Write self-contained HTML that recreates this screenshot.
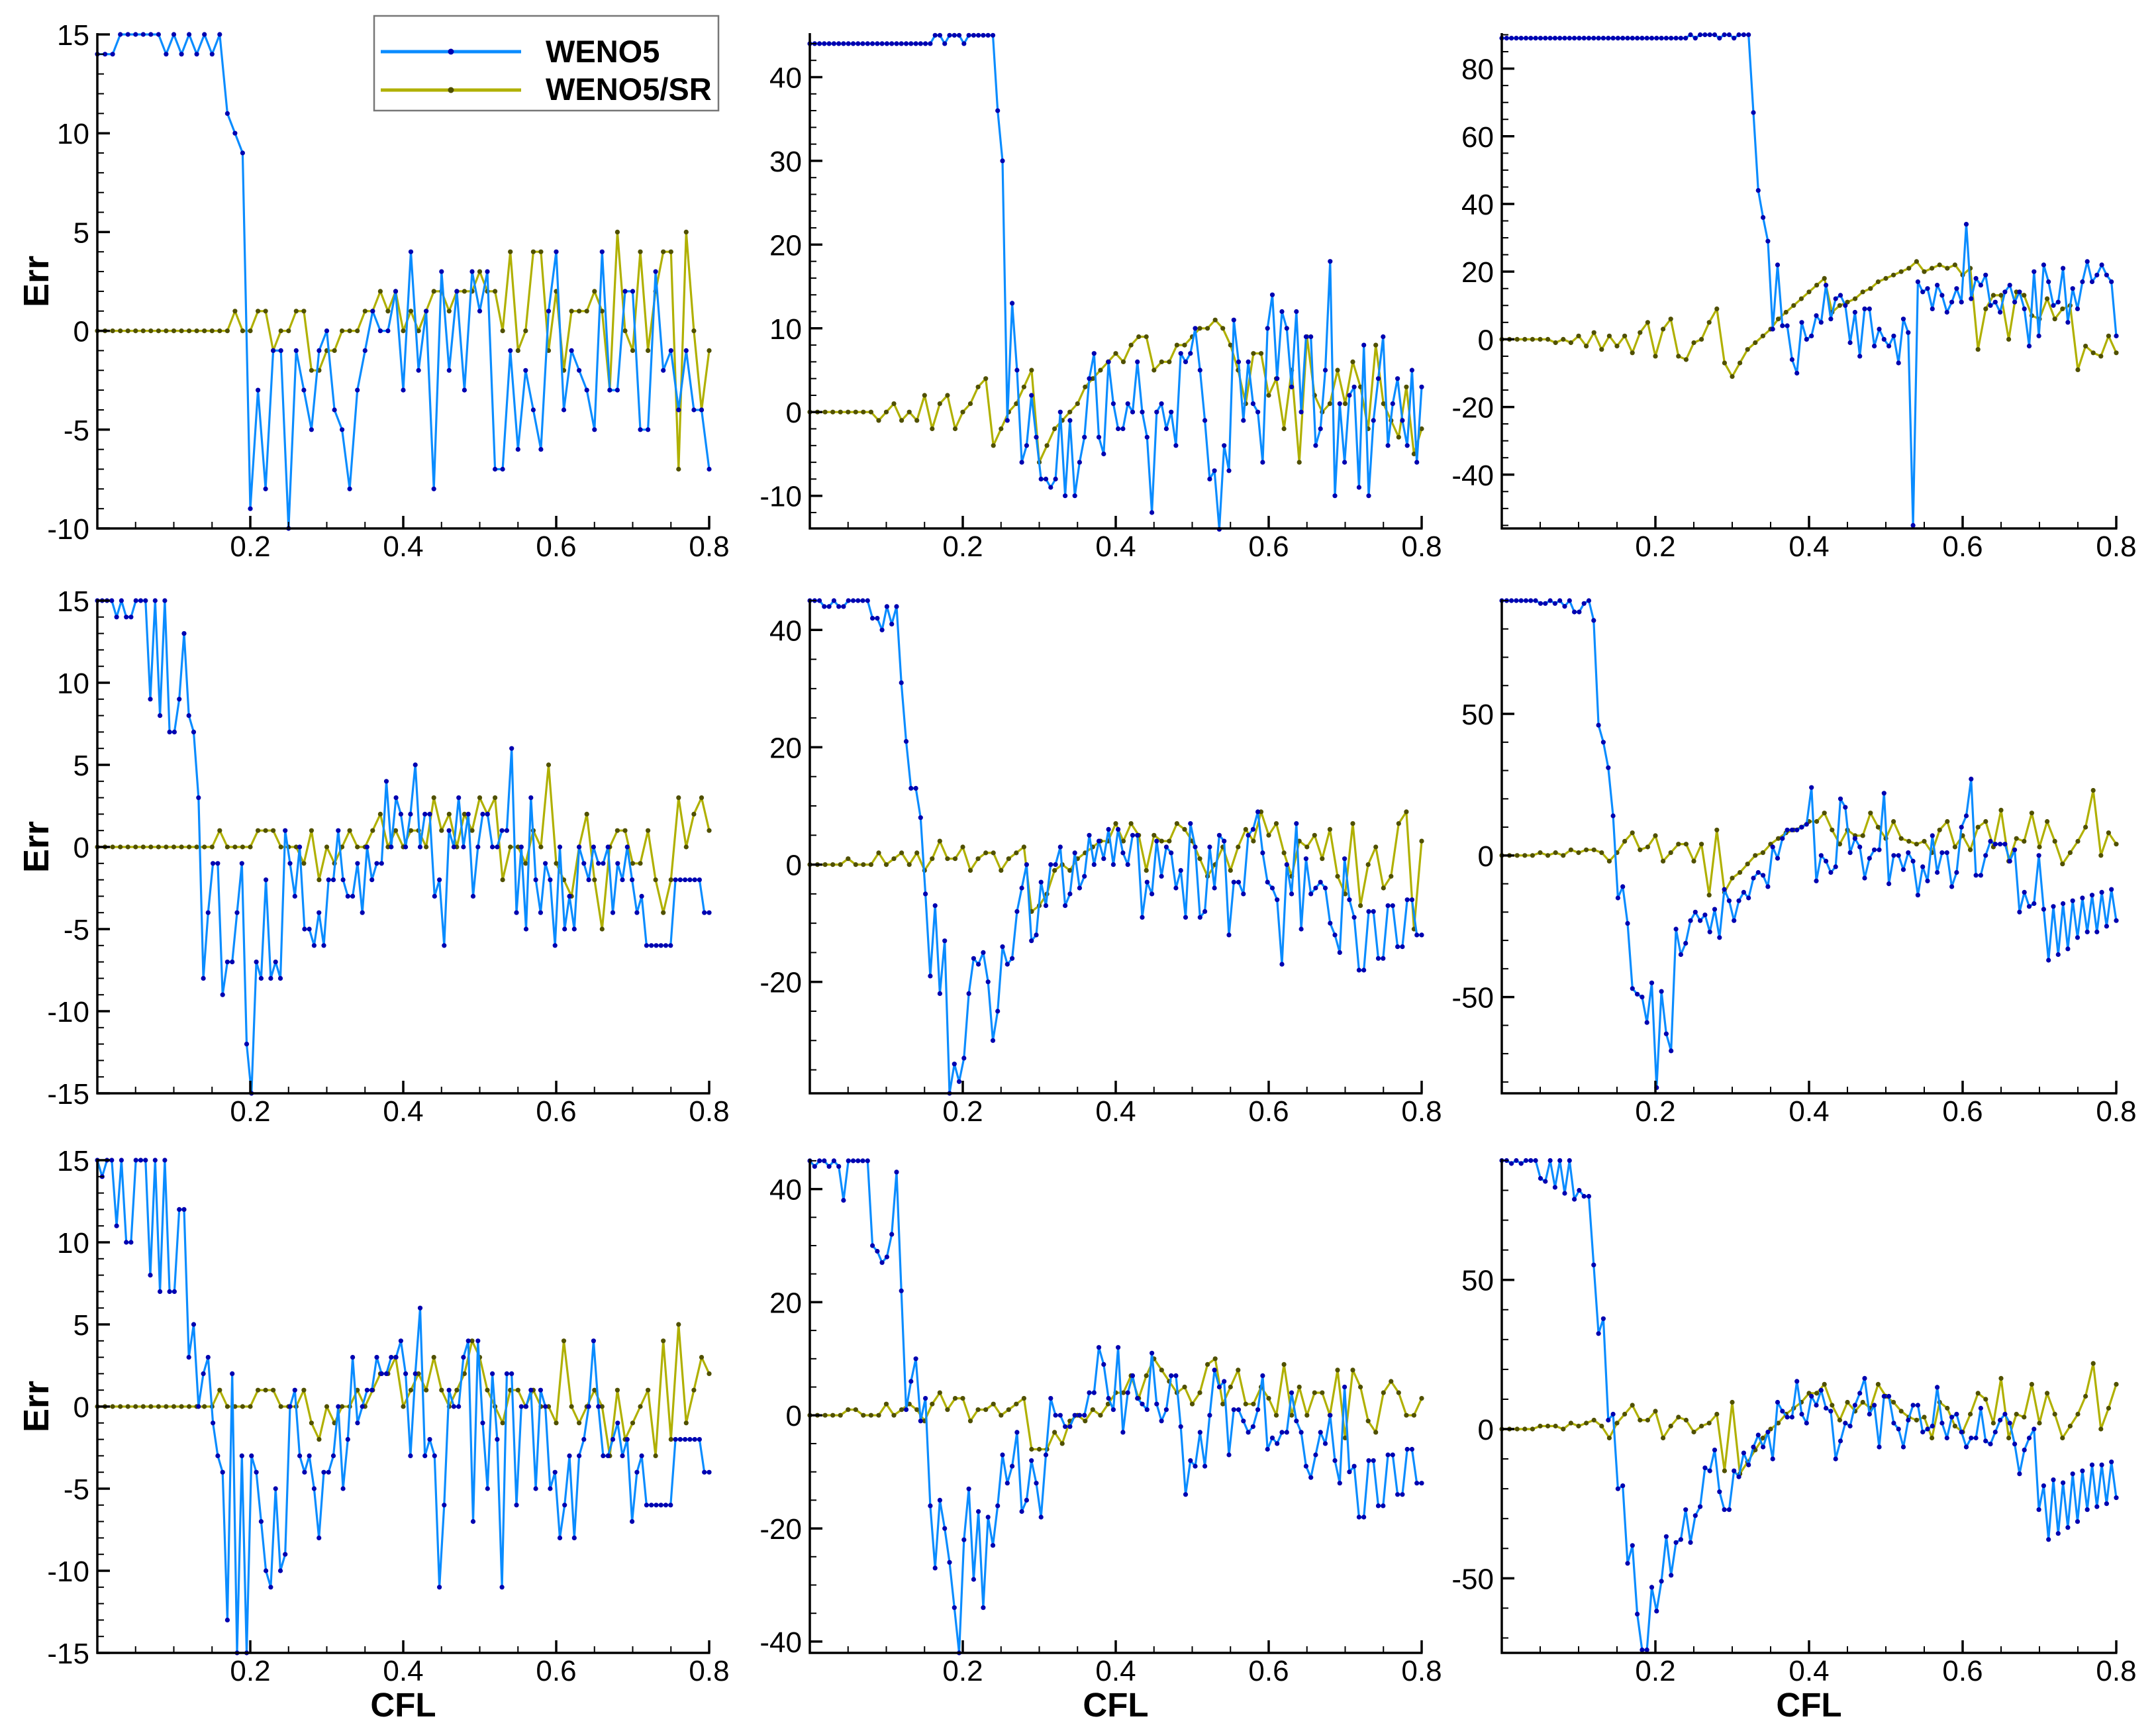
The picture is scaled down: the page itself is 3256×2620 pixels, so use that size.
<!DOCTYPE html>
<html><head><meta charset="utf-8"><style>
html,body{margin:0;padding:0;background:#fff;}
svg{display:block;}
text{font-family:"Liberation Sans",Arial,sans-serif;}
</style></head><body>
<svg id="chart" xmlns="http://www.w3.org/2000/svg" width="3256" height="2620" viewBox="0 0 3256 2620">
<rect x="0" y="0" width="3256" height="2620" fill="#fff"/>
<g id="legend">
<rect x="565" y="24" width="520" height="143" fill="#fff" stroke="#777" stroke-width="2.5"/>
<g>
<line x1="575" y1="78" x2="787" y2="78" stroke="#0a8cff" stroke-width="5"/>
<circle cx="681" cy="78" r="4.5" fill="#0000b0"/>
<text x="824" y="94" font-size="47" font-weight="bold" fill="#000">WENO5</text>
</g>
<g>
<line x1="575" y1="136" x2="787" y2="136" stroke="#b0b000" stroke-width="5"/>
<circle cx="681" cy="136" r="4.5" fill="#505000"/>
<text x="824" y="151" font-size="47" font-weight="bold" fill="#000">WENO5/SR</text>
</g>
</g>
</svg>
<script>
// ---- data (CFL runs 0..0.8; points spread evenly along each array) ----
const p1Blue=[14,14,14,15,15,15,15,15,15,14,15,14,15,14,15,14,15,11,10,9,-9,-3,-8,-1,-1,-10,-1,-3,-5,-1,0,-4,-5,-8,-3,-1,1,0,0,2,-3,4,-2,1,-8,3,-2,2,-3,3,1,3,-7,-7,-1,-6,-2,-4,-6,1,4,-4,-1,-2,-3,-5,4,-3,-3,2,2,-5,-5,3,-2,-1,-4,-1,-4,-4,-7];
const p1Olive=[0,0,0,0,0,0,0,0,0,0,0,0,0,0,0,0,0,0,1,0,0,1,1,-1,0,0,1,1,-2,-2,-1,-1,0,0,0,1,1,2,1,2,0,1,0,1,2,2,1,2,2,2,3,2,2,0,4,-1,0,4,4,-1,2,-2,1,1,1,2,1,-3,5,0,-1,4,-1,2,4,4,-7,5,0,-4,-1];
const p2Blue=[44,44,44,44,44,44,44,44,44,44,44,44,44,44,44,44,44,44,44,44,44,44,44,44,44,44,45,45,44,45,45,45,44,45,45,45,45,45,45,36,30,-1,13,5,-6,-4,2,-3,-8,-8,-9,-8,0,-10,-1,-10,-6,-3,4,7,-3,-5,6,1,-2,-2,1,0,6,0,-3,-12,0,1,-2,0,-4,7,6,7,10,5,-1,-8,-7,-14,-4,-7,11,6,-1,6,1,0,-6,10,14,4,12,10,3,12,0,9,9,-4,-2,5,18,-10,1,-6,2,3,-9,8,-10,-1,4,9,-4,1,4,-1,-4,5,-6,3];
const p2Olive=[0,0,0,0,0,0,0,0,0,-1,0,1,-1,0,-1,2,-2,1,2,-2,0,1,3,4,-4,-2,0,1,3,5,-6,-4,-2,-1,0,1,3,4,5,6,7,6,8,9,9,5,6,6,8,8,9,10,10,11,10,8,5,1,7,7,2,4,-2,5,-6,9,2,0,1,5,1,6,3,-2,8,1,-1,-3,3,-5,-2];
const p3Blue=[89,89,89,89,89,89,89,89,89,89,89,89,89,89,89,89,89,89,89,89,89,89,89,89,89,89,89,89,89,89,89,89,89,89,89,89,89,89,89,90,89,90,90,90,90,89,90,90,89,90,90,90,67,44,36,29,3,22,4,4,-6,-10,5,0,1,7,5,16,6,12,13,10,-1,8,-5,9,9,-2,3,0,-2,1,-7,6,2,-55,17,14,15,9,16,13,8,11,15,11,34,12,18,16,19,10,11,8,14,16,11,14,9,-2,20,1,22,17,10,11,21,5,15,9,17,23,17,19,22,19,17,1];
const p3Olive=[0,0,0,0,0,0,0,-1,0,-1,1,-2,2,-3,1,-2,1,-4,2,5,-5,3,6,-5,-6,-1,0,5,9,-7,-11,-7,-3,-1,1,3,6,8,10,12,14,16,18,8,10,11,12,14,15,17,18,19,20,21,23,20,21,22,21,22,19,21,-3,9,13,13,0,14,13,7,6,12,6,9,10,-9,-2,-4,-5,1,-4];
const p4Blue=[15,15,15,15,14,15,14,14,15,15,15,9,15,8,15,7,7,9,13,8,7,3,-8,-4,-1,-1,-9,-7,-7,-4,-1,-12,-15,-7,-8,-2,-8,-7,-8,1,-1,-3,0,-5,-5,-6,-4,-6,-2,-2,1,-2,-3,-3,-1,-4,0,-2,-1,-1,4,0,3,2,0,2,5,0,2,2,-3,-2,-6,1,0,3,0,2,-3,0,2,2,0,0,1,1,6,-4,0,-5,3,-2,-4,-1,-2,-6,0,-5,-3,-5,0,-1,-2,0,-1,-1,0,-4,-1,-2,0,-2,-4,-3,-6,-6,-6,-6,-6,-6,-2,-2,-2,-2,-2,-2,-4,-4];
const p4Olive=[0,0,0,0,0,0,0,0,0,0,0,0,0,0,0,0,1,0,0,0,0,1,1,1,0,0,0,-1,1,-2,0,-1,0,1,0,0,1,2,0,1,0,1,1,0,3,1,2,0,2,1,3,2,3,-2,0,0,-1,1,0,5,-1,-2,-3,0,2,-2,-5,0,1,1,-1,-1,1,-2,-4,-2,3,0,2,3,1];
const p5Blue=[45,45,45,44,44,45,44,44,45,45,45,45,45,42,42,40,44,41,44,31,21,13,13,8,-5,-19,-7,-22,-13,-39,-34,-37,-33,-22,-16,-17,-15,-20,-30,-25,-14,-17,-16,-8,-4,0,-13,-12,-3,-7,0,0,3,-7,-5,2,-4,-2,5,0,4,1,6,0,6,2,0,5,5,-9,-3,-5,4,-2,3,2,-4,-1,-9,7,3,-9,-8,3,-4,5,4,-12,-3,-3,-5,5,6,9,2,-3,-4,-6,-17,0,-5,7,-11,1,-5,-4,-3,-4,-10,-12,-15,1,-6,-9,-18,-18,-8,-8,-16,-16,-7,-7,-14,-14,-6,-6,-12,-12];
const p5Olive=[0,0,0,0,0,1,0,0,0,2,0,1,2,0,2,-1,1,4,1,1,3,-1,1,2,2,-1,1,2,3,-8,-7,-5,-1,0,-1,1,2,3,4,4,7,4,7,5,-1,5,4,4,7,6,4,1,-2,0,3,-1,3,6,4,9,5,7,2,-2,4,3,5,1,6,-2,-5,7,-7,0,3,-4,-2,7,9,-11,4];
const p6Blue=[90,90,90,90,90,90,90,90,89,89,90,89,90,88,90,86,86,89,90,83,46,40,31,14,-15,-11,-24,-47,-49,-50,-59,-45,-82,-48,-63,-69,-26,-35,-31,-23,-20,-23,-21,-27,-19,-29,-12,-16,-23,-16,-13,-15,-8,-6,-7,-11,3,-1,6,9,9,9,10,11,24,-9,0,-2,-6,-4,20,17,1,6,3,-8,-1,2,2,22,-10,0,0,-5,1,-2,-14,-4,-9,7,-6,1,1,-11,-6,10,14,27,-7,-7,0,5,4,4,4,-2,2,-20,-13,-18,-17,0,-19,-37,-18,-35,-17,-33,-16,-29,-15,-27,-14,-27,-13,-25,-12,-23];
const p6Olive=[0,0,0,0,0,1,0,1,0,2,1,2,2,1,-2,1,5,8,2,3,7,-2,1,4,4,-2,4,-14,9,-13,-8,-6,-3,0,1,4,6,8,9,10,12,12,15,9,4,9,7,7,15,10,6,12,6,5,4,5,1,9,12,3,7,2,10,12,3,16,-2,6,5,15,3,12,5,-3,1,5,10,23,0,8,4];
const p7Blue=[15,14,15,15,11,15,10,10,15,15,15,8,15,7,15,7,7,12,12,3,5,0,2,3,-1,-3,-4,-13,2,-15,-3,-15,-3,-4,-7,-10,-11,-5,-10,-9,0,1,-3,-4,-3,-5,-8,-4,-4,-3,0,-5,-2,3,-1,0,1,1,3,2,2,3,3,4,2,-3,2,6,-3,-2,-3,-11,-6,1,0,0,3,4,-7,4,-1,-5,2,-2,-11,2,2,-6,0,0,1,-5,1,0,-5,-4,-8,-6,-3,-8,-3,-2,0,4,0,-3,-3,-2,-1,-3,-2,-7,-4,-3,-6,-6,-6,-6,-6,-6,-2,-2,-2,-2,-2,-2,-4,-4];
const p7Olive=[0,0,0,0,0,0,0,0,0,0,0,0,0,0,0,0,1,0,0,0,0,1,1,1,0,0,0,1,-1,-2,0,-1,0,0,1,0,1,2,2,3,0,1,2,1,3,1,0,1,2,4,3,1,0,-1,1,1,0,1,0,0,-1,4,0,-1,0,1,0,-3,1,-2,-1,0,1,-3,4,-2,5,-1,1,3,2];
const p8Blue=[45,44,45,45,44,45,44,38,45,45,45,45,45,30,29,27,28,32,43,22,1,6,10,-1,3,-16,-27,-15,-20,-26,-34,-42,-22,-13,-29,-17,-34,-18,-23,-16,-7,-12,-9,-3,-17,-15,-8,-12,-18,-7,3,0,0,-2,-2,0,0,0,4,4,12,9,3,1,12,-3,4,7,3,2,1,11,2,-1,1,7,7,-2,-14,-8,-9,-3,-9,0,8,5,6,-7,1,1,-1,-3,-2,1,7,-6,-4,-5,-3,-3,4,-1,-3,-9,-11,-7,-3,-5,0,-8,-12,5,-10,-9,-18,-18,-8,-8,-16,-16,-7,-7,-14,-14,-6,-6,-12,-12];
const p8Olive=[0,0,0,0,0,1,1,0,0,0,2,0,1,2,1,-1,2,4,1,3,3,-1,1,1,2,0,1,2,3,-6,-6,-6,-3,-5,-1,0,-1,1,0,2,4,4,7,3,7,10,8,6,4,5,2,4,9,10,2,5,8,2,2,5,3,0,9,0,5,0,4,4,0,8,-4,8,5,-1,-3,4,6,4,0,0,3];
const p9Blue=[90,90,89,90,89,90,90,90,84,83,90,81,90,79,90,77,80,78,78,55,32,37,3,5,-20,-19,-45,-39,-62,-74,-74,-53,-61,-51,-36,-49,-38,-37,-27,-38,-29,-26,-13,-14,-7,-21,-27,-27,-14,-16,-8,-12,-6,-2,-6,-1,-10,9,6,4,4,16,5,2,11,8,13,7,6,-10,-4,2,1,8,12,17,5,8,-6,11,11,2,0,-6,3,8,8,-1,0,1,14,2,-3,4,5,-1,-6,-3,-3,7,-4,-5,-1,3,5,2,-5,-15,-7,-3,0,-27,-19,-37,-17,-35,-18,-33,-15,-31,-14,-27,-12,-26,-12,-25,-11,-23];
const p9Olive=[0,0,0,0,0,1,1,1,0,2,1,2,3,1,-3,2,5,8,3,3,6,-3,1,4,3,-1,1,2,5,-14,9,-15,-11,-7,-3,0,2,5,7,9,12,12,15,8,3,9,6,9,7,15,11,9,6,4,3,4,-3,9,7,1,-1,5,12,10,2,17,-3,5,4,15,2,12,5,-3,1,5,11,22,0,7,15];
const xTickLabels=["0.2","0.4","0.6","0.8"];
const yTicks1=[-10,-5,0,5,10,15];
const yTicks2=[-10,0,10,20,30,40];
const yTicks3=[-40,-20,0,20,40,60,80];
const yTicks4=[-15,-10,-5,0,5,10,15];
const yTicks5=[-20,0,20,40];
const yTicks6=[-50,0,50];
const yTicks7=[-15,-10,-5,0,5,10,15];
const yTicks8=[-40,-20,0,20,40];
const yTicks9=[-50,0,50];
const yRanges=[[-10,15],[-13.9,45.1],[-55.9,90.1],[-15,15],[-39,45],[-84,90],[-15,15],[-42,45.1],[-75,90.1]];

// ---- layout ----
const NS="http://www.w3.org/2000/svg";
const svg=document.getElementById('chart');
const legend=document.getElementById('legend');
const cols=[[147,1071],[1223,2147],[2268,3196]];
const rows=[[52,798],[907,1651],[1752,2496]];
const minorSteps=[1,2,5,1,5,10,1,5,10];
const series=[[p1Blue,p1Olive],[p2Blue,p2Olive],[p3Blue,p3Olive],[p4Blue,p4Olive],[p5Blue,p5Olive],[p6Blue,p6Olive],[p7Blue,p7Olive],[p8Blue,p8Olive],[p9Blue,p9Olive]];
const yTickSets=[yTicks1,yTicks2,yTicks3,yTicks4,yTicks5,yTicks6,yTicks7,yTicks8,yTicks9];
function mk(tag,attrs,parent){const e=document.createElementNS(NS,tag);for(const k in attrs)e.setAttribute(k,attrs[k]);parent.appendChild(e);return e;}

for(let p=0;p<9;p++){
  const r=Math.floor(p/3),c=p%3;
  const X0=cols[c][0],X1=cols[c][1],Y0=rows[r][0],Y1=rows[r][1];
  const ymin=yRanges[p][0],ymax=yRanges[p][1];
  const sx=v=>X0+(v/0.8)*(X1-X0);
  const sy=v=>Y1-(v-ymin)/(ymax-ymin)*(Y1-Y0);
  const g=mk('g',{},svg);
  
  
  const cp=mk('clipPath',{id:'clip'+p},g);
  mk('rect',{x:X0-6,y:Y0-6,width:X1-X0+12,height:Y1-Y0+12},cp);
  // series
  const colors=[['#0a8cff','#0000b0'],['#b0b000','#505000']];
  const names=['weno5','weno5-sr'];
  for(let s=1;s>=0;s--){
    const arr=series[p][s];
    const sg=mk('g',{'clip-path':'url(#clip'+p+')'},g);
    
    
    const pts=arr.map((v,i)=>sx(i/(arr.length-1)*0.8).toFixed(1)+','+sy(v).toFixed(1)).join(' ');
    const pl=mk('polyline',{points:pts,fill:'none',stroke:colors[s][0],'stroke-width':3.2,'stroke-linejoin':'round'},sg);
    
    
    arr.forEach((v,i)=>{
      const m=mk('circle',{cx:sx(i/(arr.length-1)*0.8).toFixed(1),cy:sy(v).toFixed(1),r:3.6,fill:colors[s][1]},sg);
      
      
    });
  }
  // axes
  const ax=mk('g',{stroke:'#000','stroke-width':3.5},g);
  
  
  const yl=mk('line',{x1:X0,y1:Y0-2,x2:X0,y2:Y1+1.5},ax);
  
  
  const xl=mk('line',{x1:X0-1.5,y1:Y1,x2:X1+1.5,y2:Y1},ax);
  
  
  // x ticks
  for(let k=1;k<=16;k++){
    const v=k*0.05,x=sx(v),major=(k%4===0);
    const t=mk('line',{x1:x,y1:Y1,x2:x,y2:Y1-(major?19:10),'stroke-width':major?3.5:2},ax);
    
    
  }
  xTickLabels.forEach(lbl=>{
    const t=mk('text',{x:sx(parseFloat(lbl)),y:Y1+42,'font-size':44,'text-anchor':'middle',fill:'#000'},g);
    t.textContent=lbl;
    
    
  });
  // y ticks
  const ms=minorSteps[p];
  for(let v=Math.ceil(ymin/ms)*ms;v<=ymax+1e-9;v+=ms){
    const y=sy(v),major=yTickSets[p].includes(v);
    const t=mk('line',{x1:X0,y1:y,x2:X0+(major?19:10),y2:y,'stroke-width':major?3.5:2},ax);
    
    
  }
  yTickSets[p].forEach(v=>{
    const t=mk('text',{x:X0-12,y:sy(v)+16,'font-size':44,'text-anchor':'end',fill:'#000'},g);
    t.textContent=String(v);
    
    
  });
  if(c===0){
    const cy=(Y0+Y1)/2;
    const t=mk('text',{x:0,y:0,transform:'translate(73,'+cy+') rotate(-90)','font-size':54,'font-weight':'bold','text-anchor':'middle',fill:'#000'},g);
    t.textContent='Err';
    
    
  }
  if(r===2){
    const t=mk('text',{x:(X0+X1)/2,y:2592,'font-size':51,'font-weight':'bold','text-anchor':'middle',fill:'#000'},g);
    t.textContent='CFL';
    
    
  }
}
svg.appendChild(legend);
</script>
</body></html>
